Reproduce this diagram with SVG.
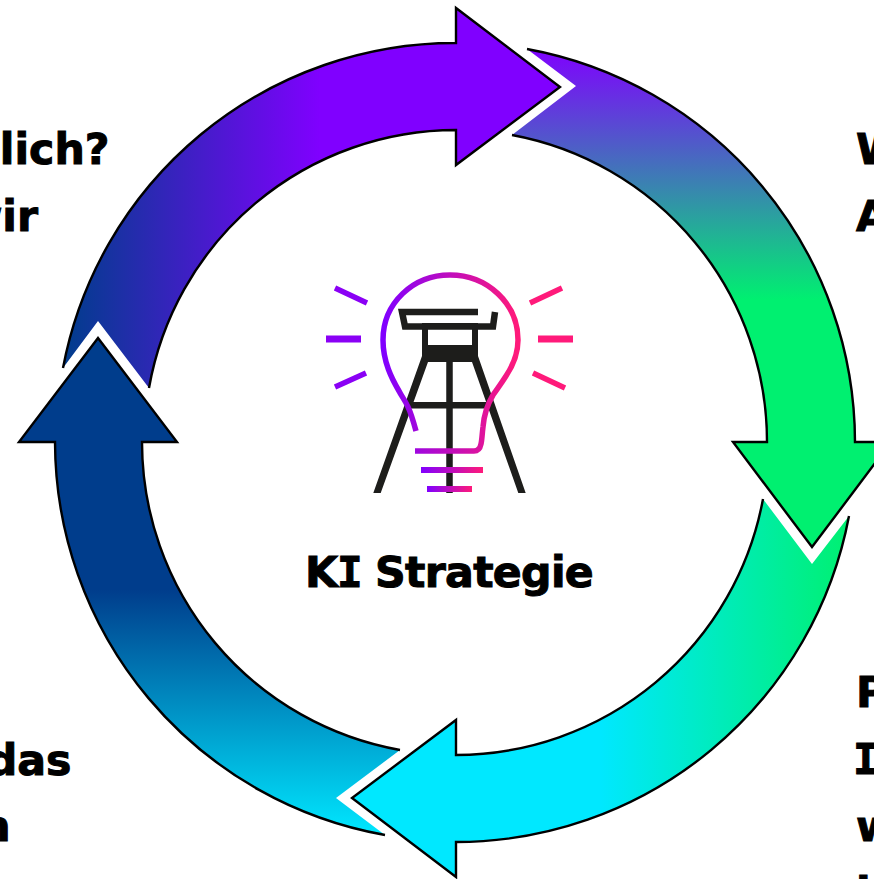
<svg xmlns="http://www.w3.org/2000/svg" width="874" height="879" viewBox="0 0 874 879">
  <style>
    .edge { fill: none; stroke: #000; stroke-width: 2.4; stroke-linejoin: miter; }
    .label { font-family: "DejaVu Sans", Verdana, sans-serif; font-weight: 700; font-size: 42.67px; fill: #000; stroke: #000; stroke-width: 1; }
    .serif-i { font-family: "DejaVu Sans Mono", monospace; }
    .end { text-anchor: end; }
    .tower { fill: none; stroke: #1d1d1b; stroke-width: 6.5; }
    .bulb { fill: none; stroke: url(#gBulb); stroke-width: 5.5; }
  </style>
  <defs>
    <linearGradient id="g1" gradientUnits="userSpaceOnUse" x1="64" y1="0" x2="320" y2="0">
      <stop offset="0" stop-color="#003d8c"/><stop offset="1" stop-color="#8000ff"/>
    </linearGradient>
    <linearGradient id="g2" gradientUnits="userSpaceOnUse" x1="0" y1="48" x2="0" y2="300">
      <stop offset="0" stop-color="#8000ff"/><stop offset="1" stop-color="#00f070"/>
    </linearGradient>
    <linearGradient id="g3" gradientUnits="userSpaceOnUse" x1="850" y1="0" x2="600" y2="0">
      <stop offset="0" stop-color="#00f070"/><stop offset="1" stop-color="#00e8ff"/>
    </linearGradient>
    <linearGradient id="g4" gradientUnits="userSpaceOnUse" x1="0" y1="835" x2="0" y2="590">
      <stop offset="0" stop-color="#00e8ff"/><stop offset="1" stop-color="#003d8c"/>
    </linearGradient>
    <linearGradient id="gBulb" gradientUnits="userSpaceOnUse" x1="383" y1="0" x2="517" y2="0">
      <stop offset="0" stop-color="#8000ff"/><stop offset="1" stop-color="#ff1a7a"/>
    </linearGradient>
    <linearGradient id="gBar" gradientUnits="objectBoundingBox" x1="0" y1="0" x2="1" y2="0">
      <stop offset="0" stop-color="#8000ff"/><stop offset="1" stop-color="#ff1a7a"/>
    </linearGradient>
  </defs>

  <g id="connectors">
    <g id="arrow-top">
      <path fill="url(#g1)" d="M63 368 L98 321 L149 388 A312 312 0 0 1 456 130 L456 165 L560 87 L456 8 L456 43 A399 399 0 0 0 63 368 Z"/>
      <path class="edge" d="M149 388 A312 312 0 0 1 456 130 L456 165 L560 87 L456 8 L456 43 A399 399 0 0 0 63 368"/>
    </g>
    <g id="arrow-right">
      <path fill="url(#g2)" d="M527 49 L576 86 L512 135 A312 312 0 0 1 767 442 L733 442 L812 547 L891 442 L855 442 A400 400 0 0 0 527 49 Z"/>
      <path class="edge" d="M512 135 A312 312 0 0 1 767 442 L733 442 L812 547 L891 442 L855 442 A400 400 0 0 0 527 49"/>
    </g>
    <g id="arrow-bottom">
      <path fill="url(#g3)" d="M849 516 L812 564 L763 499 A313 313 0 0 1 456 755 L456 720 L352 798 L456 877 L456 842 A400 400 0 0 0 849 516 Z"/>
      <path class="edge" d="M763 499 A313 313 0 0 1 456 755 L456 720 L352 798 L456 877 L456 842 A400 400 0 0 0 849 516"/>
    </g>
    <g id="arrow-left">
      <path fill="url(#g4)" d="M385 835 L336 798 L400 750 A313 313 0 0 1 142 442 L177 442 L98 338 L19 442 L55 442 A400 400 0 0 0 385 835 Z"/>
      <path class="edge" d="M400 750 A313 313 0 0 1 142 442 L177 442 L98 338 L19 442 L55 442 A400 400 0 0 0 385 835"/>
    </g>
  </g>

  <g id="icon">
    <g id="tower">
      <path class="tower" d="M478 312 H402 L405 326.5 H493 L495 312"/>
      <path fill="#1d1d1b" fill-rule="evenodd" d="M422 323 H478 V362 H422 Z M428 329 V345 H472 V329 Z"/>
      <path fill="#1d1d1b" d="M422 356 L428 362 L380.7 493 H373.3 Z M478 356 L472 362 L518.3 493 H525.7 Z"/>
      <path class="tower" d="M449.5 360 V493 M408 405.3 H492"/>
    </g>
    <path id="bulb" class="bulb" d="M416 431 C413 420 411 413 408 407 C405 400 402 397 399 391 C392 379 383 362 383 340 C383 303 413 275 450 275 C487 275 518 303 518 340 C518 355 512 367 506 376 C501 384 497 389 493 395 C487 405 484 415 483 427 C482 435 482 440 481 444 C480 449 478 451 474 451 H415"/>
    <g id="rays" stroke-width="5.5" fill="none">
      <path stroke="#8a00f5" d="M335 288 L367 303 M335 387 L366 373"/>
      <path stroke="#8a00f5" stroke-width="7" d="M326 339 H361"/>
      <path stroke="#ff1a7a" d="M562 288 L530 303 M533 373 L565 388"/>
      <path stroke="#ff1a7a" stroke-width="7" d="M538 339 H573"/>
    </g>
    <rect id="bar-1" x="421" y="467" width="62" height="6" fill="url(#gBar)"/>
    <rect id="bar-2" x="427" y="486" width="45" height="6" fill="url(#gBar)"/>
  </g>

  <g id="title"><text class="label" y="587"><tspan x="305">K</tspan><tspan class="serif-i" x="337">I</tspan> <tspan x="375" letter-spacing="-0.7">Strategie</tspan></text></g>

  <g id="text-top-left">
    <text class="label end" x="109.5" y="164">lich?</text>
    <text class="label end" x="38" y="231">wir</text>
  </g>
  <g id="text-top-right">
    <text class="label" x="856" y="164">W</text>
    <text class="label" x="856" y="231">A</text>
  </g>
  <g id="text-bottom-right">
    <text class="label" x="856" y="707">P</text>
    <text class="label serif-i" x="853" y="774">I</text>
    <text class="label" x="856" y="841">w</text>
    <text class="label" x="856" y="908">l</text>
  </g>
  <g id="text-bottom-left">
    <text class="label end" x="71.5" y="775">das</text>
    <text class="label end" x="10.5" y="841">n</text>
  </g>
</svg>
